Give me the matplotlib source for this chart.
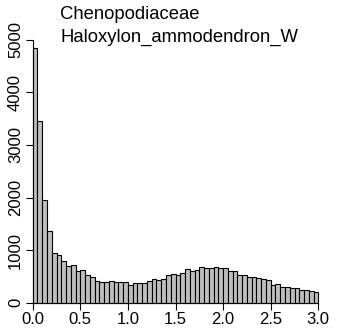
import matplotlib
matplotlib.use("Agg")
import matplotlib.pyplot as plt
import numpy as np

plt.rcParams['font.family'] = ['Liberation Sans', 'DejaVu Sans']

# histogram counts, bins of width 0.05 from 0.0 to 3.0
bin_left = np.arange(0, 3.0, 0.05)
counts = [4850, 3450, 1950, 1360, 950, 900, 790, 700, 720, 610,
          615, 525, 480, 420, 400, 390, 410, 385, 385, 385,
          335, 370, 370, 380, 410, 460, 440, 450, 520, 540,
          530, 560, 635, 610, 630, 680, 665, 665, 680, 655,
          665, 610, 600, 535, 520, 495, 490, 475, 445, 440,
          330, 350, 292, 290, 272, 270, 234, 240, 222, 203]
family = "Chenopodiaceae"
species = "Haloxylon_ammodendron_W"
xticks = [0.0, 0.5, 1.0, 1.5, 2.0, 2.5, 3.0]
yticks = [0, 1000, 2000, 3000, 4000, 5000]

fig = plt.figure(figsize=(3.37, 3.35), dpi=100)
ax = fig.add_axes([32.7 / 337, 1 - 302.7 / 335, (318.3 - 32.7) / 337, (302.7 - 39.7) / 335])

ax.bar(bin_left, counts, width=0.05, align='edge', color='#bebebe',
       edgecolor='black', linewidth=0.8, clip_on=False)

ax.set_xlim(0, 3)
ax.set_ylim(0, 5000)
for s in ['top', 'right']:
    ax.spines[s].set_visible(False)
ax.spines['left'].set_bounds(0, 5000)
ax.spines['bottom'].set_bounds(0, 3)
ax.spines['left'].set_linewidth(0.8)
ax.spines['bottom'].set_linewidth(0.8)

ax.set_xticks(xticks)
ax.set_xticklabels([f"{t:.1f}" for t in xticks], fontsize=12)
ax.set_yticks(yticks)
ax.set_yticklabels([str(t) for t in yticks], fontsize=12, rotation=90, va='center')
ax.tick_params(length=5, width=0.8, pad=2)

fig.text(60 / 337, 1 - 19.3 / 335, family, fontsize=13.3, va='baseline', ha='left')
fig.text(60 / 337, 1 - 41.5 / 335, species, fontsize=13.3, va='baseline', ha='left')

fig.savefig("out.png", dpi=100)
